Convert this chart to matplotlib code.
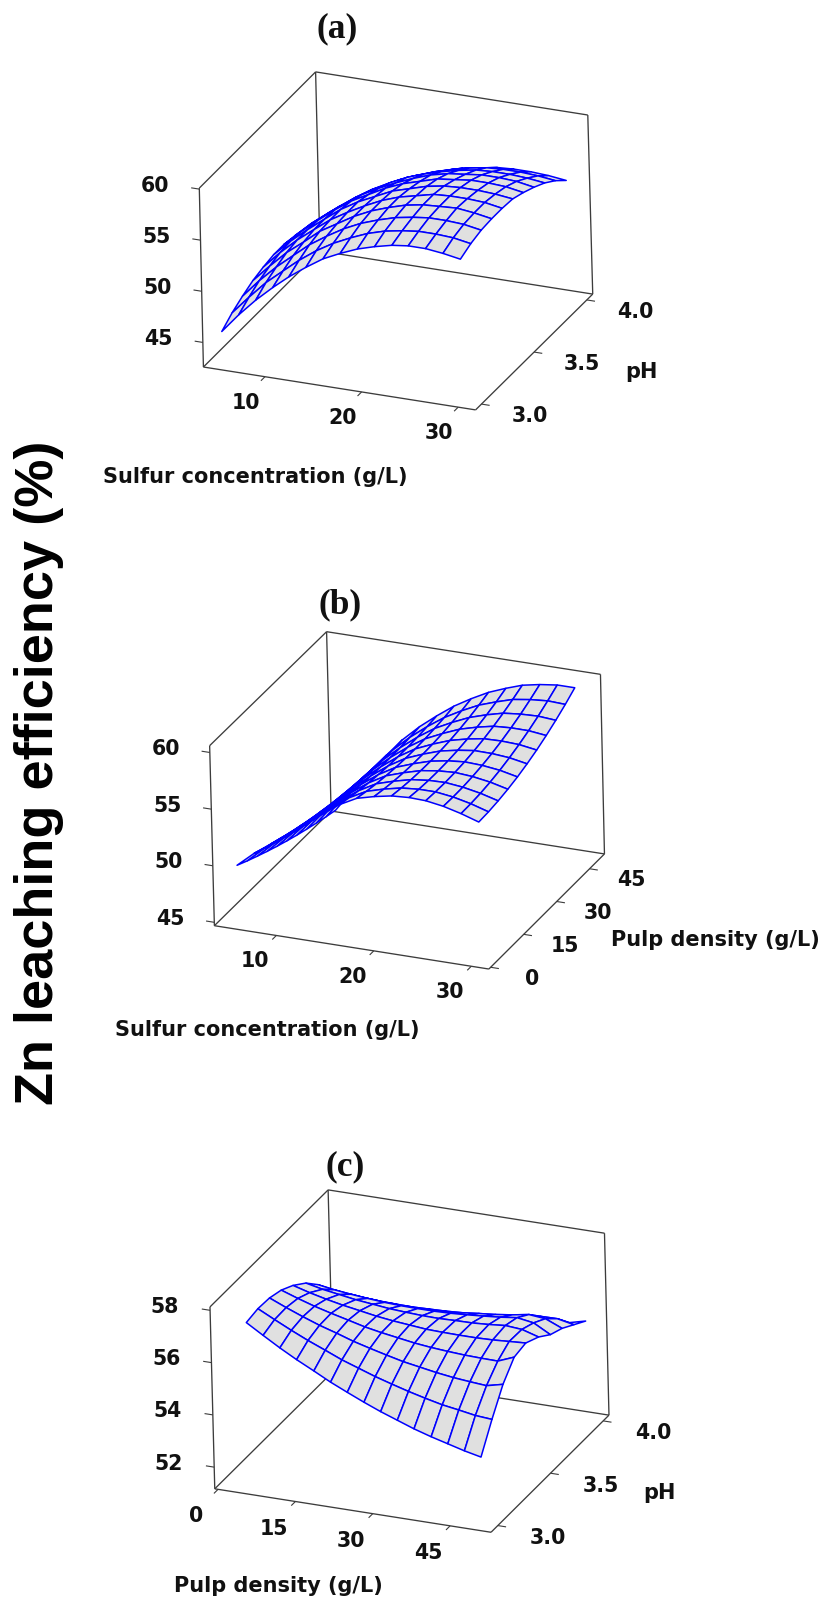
import numpy as np
import matplotlib
matplotlib.use("Agg")
import matplotlib.pyplot as plt
from mpl_toolkits.mplot3d import proj3d

W, H = 819, 1600

# ---------- data ----------
sulfur_a = [5, 6.8, 8.6, 10.4, 12.1, 13.9, 15.7, 17.5, 19.3, 21.1, 22.9, 24.6, 26.4, 28.2, 30]
ph_a = [3.0, 3.1, 3.2, 3.3, 3.4, 3.5, 3.6, 3.7, 3.8, 3.9, 4.0]
zn_a = [
    [45.7, 47.6, 49.3, 50.8, 52.1, 53.3, 54.4, 55.2, 55.9, 56.4, 56.8, 57.0, 57.0, 56.8, 56.5],
    [46.5, 48.3, 50.0, 51.4, 52.7, 53.9, 54.9, 55.7, 56.4, 56.9, 57.2, 57.4, 57.4, 57.3, 57.0],
    [47.1, 48.9, 50.5, 51.9, 53.2, 54.3, 55.3, 56.1, 56.7, 57.2, 57.5, 57.7, 57.7, 57.6, 57.3],
    [47.6, 49.3, 50.9, 52.2, 53.5, 54.5, 55.5, 56.3, 56.9, 57.4, 57.7, 57.8, 57.9, 57.7, 57.4],
    [47.9, 49.6, 51.1, 52.4, 53.6, 54.6, 55.5, 56.3, 56.9, 57.3, 57.7, 57.8, 57.8, 57.7, 57.4],
    [48.1, 49.7, 51.1, 52.4, 53.6, 54.6, 55.4, 56.2, 56.7, 57.2, 57.5, 57.6, 57.6, 57.5, 57.3],
    [48.1, 49.6, 51.0, 52.3, 53.4, 54.3, 55.2, 55.9, 56.4, 56.9, 57.1, 57.3, 57.3, 57.2, 56.9],
    [47.9, 49.4, 50.7, 51.9, 53.0, 53.9, 54.7, 55.4, 56.0, 56.4, 56.6, 56.8, 56.8, 56.7, 56.4],
    [47.6, 49.0, 50.3, 51.5, 52.5, 53.4, 54.2, 54.8, 55.3, 55.7, 56.0, 56.1, 56.1, 56.0, 55.8],
    [47.1, 48.5, 49.7, 50.8, 51.8, 52.7, 53.4, 54.0, 54.5, 54.9, 55.2, 55.3, 55.3, 55.2, 55.0],
    [46.5, 47.8, 49.0, 50.0, 51.0, 51.8, 52.5, 53.1, 53.6, 53.9, 54.2, 54.3, 54.3, 54.2, 54.0],
]

sulfur_b = [5, 6.8, 8.6, 10.4, 12.1, 13.9, 15.7, 17.5, 19.3, 21.1, 22.9, 24.6, 26.4, 28.2, 30]
pulp_b = [4, 8.4, 12.8, 17.2, 21.6, 26, 30.4, 34.8, 39.2, 43.6, 48]
zn_b = [
    [49.3, 50.6, 51.7, 52.7, 53.8, 55.0, 56.1, 56.9, 57.3, 57.6, 57.7, 57.65, 57.4, 57.0, 56.5],
    [48.83, 50.19, 51.36, 52.41, 53.55, 54.76, 55.86, 56.67, 57.11, 57.45, 57.58, 57.58, 57.37, 57.02, 56.55],
    [48.39, 49.8, 51.04, 52.16, 53.34, 54.55, 55.65, 56.49, 56.96, 57.34, 57.52, 57.56, 57.39, 57.09, 56.67],
    [47.97, 49.44, 50.76, 51.94, 53.16, 54.39, 55.49, 56.35, 56.86, 57.29, 57.51, 57.6, 57.48, 57.23, 56.85],
    [47.57, 49.11, 50.5, 51.75, 53.02, 54.26, 55.37, 56.25, 56.81, 57.28, 57.55, 57.69, 57.62, 57.43, 57.09],
    [47.2, 48.81, 50.28, 51.59, 52.91, 54.17, 55.29, 56.2, 56.81, 57.33, 57.64, 57.84, 57.82, 57.69, 57.4],
    [46.85, 48.53, 50.08, 51.47, 52.84, 54.12, 55.25, 56.19, 56.85, 57.42, 57.79, 58.04, 58.08, 58.01, 57.77],
    [46.53, 48.28, 49.92, 51.38, 52.8, 54.11, 55.25, 56.23, 56.94, 57.57, 57.99, 58.3, 58.4, 58.39, 58.21],
    [46.23, 48.06, 49.78, 51.32, 52.8, 54.13, 55.29, 56.31, 57.08, 57.76, 58.24, 58.61, 58.77, 58.83, 58.71],
    [45.95, 47.87, 49.68, 51.29, 52.83, 54.2, 55.38, 56.43, 57.27, 58.01, 58.54, 58.98, 59.21, 59.34, 59.27],
    [45.7, 47.7, 49.6, 51.3, 52.9, 54.3, 55.5, 56.6, 57.5, 58.3, 58.9, 59.4, 59.7, 59.9, 59.9],
]

pulp_c = [5, 8.2, 11.4, 14.6, 17.9, 21.1, 24.3, 27.5, 30.7, 33.9, 37.1, 40.4, 43.6, 46.8, 50]
ph_c = [3.0, 3.11, 3.22, 3.33, 3.44, 3.56, 3.67, 3.78, 3.89, 4.0]
# one list per pulp-density column, from pH 3.0 to pH 4.0
zn_c_columns = [
    [57.45, 57.54, 57.51, 57.37, 57.11, 56.72, 56.22, 55.6, 54.85, 54.0],
    [57.06, 57.22, 57.24, 57.15, 56.93, 56.58, 56.12, 55.53, 54.81, 53.97],
    [56.68, 56.91, 56.99, 56.95, 56.78, 56.48, 56.05, 55.49, 54.79, 53.96],
    [56.33, 56.62, 56.76, 56.78, 56.65, 56.38, 55.99, 55.45, 54.78, 53.96],
    [56.0, 56.35, 56.56, 56.62, 56.54, 56.31, 55.94, 55.43, 54.77, 53.97],
    [55.67, 56.08, 56.35, 56.46, 56.43, 56.24, 55.91, 55.42, 54.78, 54.0],
    [55.38, 55.86, 56.18, 56.34, 56.35, 56.2, 55.9, 55.44, 54.82, 54.04],
    [55.1, 55.64, 56.02, 56.24, 56.29, 56.17, 55.9, 55.46, 54.86, 54.1],
    [54.84, 55.45, 55.87, 56.14, 56.23, 56.16, 55.92, 55.5, 54.93, 54.17],
    [54.61, 55.27, 55.76, 56.07, 56.21, 56.18, 55.96, 55.57, 55.0, 54.26],
    [54.38, 55.11, 55.65, 56.02, 56.2, 56.19, 56.01, 55.63, 55.09, 54.36],
    [54.18, 54.96, 55.56, 55.98, 56.2, 56.23, 56.07, 55.72, 55.19, 54.47],
    [54.01, 54.86, 55.5, 55.96, 56.22, 56.29, 56.15, 55.83, 55.32, 54.6],
    [53.84, 54.75, 55.45, 55.95, 56.26, 56.24, 56.05, 55.77, 55.33, 54.74],
    [53.7, 54.7, 55.6, 56.2, 56.3, 56.05, 55.7, 55.5, 55.2, 54.9],
]

xticks_a = [10, 20, 30]
yticks_a = [3.0, 3.5, 4.0]
zticks_a = [45, 50, 55, 60]
xticks_b = [10, 20, 30]
yticks_b = [0, 15, 30, 45]
zticks_b = [45, 50, 55, 60]
xticks_c = [0, 15, 30, 45]
yticks_c = [3.0, 3.5, 4.0]
zticks_c = [52, 54, 56, 58]

# ---------- layout ----------
plt.rcParams["font.family"] = ["DejaVu Sans"]
BOX = "#3c3c3c"
MESH = "#0000ff"
FILL = "#e0e0e0"
TICK_FS = 14.8
LABEL_FS = 15.0

fig = plt.figure(figsize=(W / 100, H / 100), dpi=100, facecolor="white")


def draw_panel(x, y, z, xlim, ylim, zlim, xt, yt, zt, ylabels, corners, box_top,
               xoff, yoff, zoff):
    S = 680
    ax = fig.add_axes([90 / W, 1 - (box_top + S) / H, S / W, S / H],
                      projection="3d", computed_zorder=False, proj_type="ortho")
    ax.set_facecolor("none")
    ax.set_axis_off()
    ax.apply_aspect()
    inv = ax.transData.inverted()
    unit = np.array([(0, 0, 0), (1, 0, 0), (1, 1, 0), (0, 1, 0),
                     (0, 0, 1), (0, 1, 1), (1, 1, 1)], float)
    rows, rhs = [], []
    for (a, b, c), (px, py) in zip(unit, corners):
        u, v = inv.transform((px, H - py))
        rows.append([a, b, c, 1, 0, 0, 0, 0, -u * a, -u * b, -u * c])
        rhs.append(u)
        rows.append([0, 0, 0, 0, a, b, c, 1, -v * a, -v * b, -v * c])
        rhs.append(v)
    p = np.linalg.lstsq(np.array(rows), np.array(rhs), rcond=None)[0]
    Q = np.array([[p[0], p[1], p[2], p[3]],
                  [p[4], p[5], p[6], p[7]],
                  [-0.6, 1.0, -0.5, 2.0],
                  [p[8], p[9], p[10], 1.0]])
    N = np.array([[1 / (xlim[1] - xlim[0]), 0, 0, -xlim[0] / (xlim[1] - xlim[0])],
                  [0, 1 / (ylim[1] - ylim[0]), 0, -ylim[0] / (ylim[1] - ylim[0])],
                  [0, 0, 1 / (zlim[1] - zlim[0]), -zlim[0] / (zlim[1] - zlim[0])],
                  [0, 0, 0, 1]])
    M = Q @ N
    ax.get_proj = lambda: M
    ax.M = M

    x0, x1 = xlim
    y0, y1 = ylim
    z0, z1 = zlim

    def seg(p0, p1, lw=0.95):
        ax.plot([p0[0], p1[0]], [p0[1], p1[1]], [p0[2], p1[2]],
                color=BOX, lw=lw, zorder=1, solid_capstyle="butt")

    A, B, C, D = (x0, y0, z0), (x1, y0, z0), (x1, y1, z0), (x0, y1, z0)
    TA, TD, TC = (x0, y0, z1), (x0, y1, z1), (x1, y1, z1)
    for p0, p1 in [(A, B), (B, C), (C, D), (D, A), (A, TA), (D, TD), (C, TC),
                   (TA, TD), (TD, TC)]:
        seg(p0, p1)

    def label(pt, text, off, ha="center"):
        u, v, _ = proj3d.proj_transform(pt[0], pt[1], pt[2], M)
        ax.annotate(text, xy=(u, v), xytext=(off[0], -off[1]), textcoords="offset pixels",
                    ha=ha, va="center", fontsize=TICK_FS, fontweight="bold",
                    color="#111111", annotation_clip=False)

    for t in xt:
        seg((t, y0, z0), (t, y0 - 0.035 * (y1 - y0), z0), lw=0.8)
        label((t, y0, z0), str(t), xoff)
    for t, s in zip(yt, ylabels):
        seg((x1, t, z0), (x1 + 0.03 * (x1 - x0), t, z0), lw=0.8)
        label((x1, t, z0), s, yoff)
    for t in zt:
        seg((x0, y0, t), (x0 - 0.03 * (x1 - x0), y0, t), lw=0.8)
        label((x0, y0, t), str(t), zoff, ha="right")

    X, Y = np.meshgrid(x, y)
    ax.plot_surface(X, Y, np.array(z), rstride=1, cstride=1, color=FILL, edgecolor=MESH,
                    linewidth=1.1, shade=False, antialiased=True, zorder=2)
    ax.set_xlim(*xlim)
    ax.set_ylim(*ylim)
    ax.set_zlim(*zlim)
    return ax


draw_panel(sulfur_a, ph_a, zn_a, (3.63, 31.8), (2.944, 4.056), (42.6, 60.1),
           xticks_a, yticks_a, zticks_a, ["3.0", "3.5", "4.0"],
           [(203.3, 366.7), (475.7, 410), (592.7, 294), (320, 251.3),
            (199.3, 188.3), (315.7, 71.7), (587.7, 115)], 0,
           (-19, 26), (48, 12), (-30, -3))

draw_panel(sulfur_b, pulp_b, zn_b, (3.63, 31.8), (-0.8, 51.8), (44.7, 60.6),
           xticks_b, yticks_b, zticks_b, ["0", "15", "30", "45"],
           [(214.5, 925.7), (488.9, 969), (604.5, 854), (330.9, 811),
            (209.5, 745.7), (326.8, 631.7), (600.4, 674.3)], 560,
           (-21, 26), (41.5, 11.5), (-30, -3.5))

draw_panel(pulp_c, ph_c, np.array(zn_c_columns).T, (-0.64, 52.93), (2.936, 4.055), (51.17, 58.13),
           xticks_c, yticks_c, zticks_c, ["3.0", "3.5", "4.0"],
           [(214.8, 1489), (490.9, 1532.3), (609, 1415), (332.9, 1371.7),
            (210.1, 1306.7), (327.9, 1190), (604.6, 1233.3)], 920,
           (-22, 27), (50, 12.5), (-31, -3.5))


def ftext(px, py, s, **kw):
    fig.text(px / W, 1 - py / H, s, ha="center", va="center", **kw)


for px, py, s in [(337, 29, "(a)"), (340.5, 605, "(b)"), (345, 1167, "(c)")]:
    ftext(px, py, s, family="Liberation Serif", fontweight="bold", fontsize=25.5, color="#111111")

for px, py, s in [(255, 476.7, "Sulfur concentration (g/L)"), (641.7, 371.7, "pH"),
                  (267, 1030, "Sulfur concentration (g/L)"), (715, 940, "Pulp density (g/L)"),
                  (278.7, 1586, "Pulp density (g/L)"), (659, 1493, "pH")]:
    ftext(px, py, s, fontweight="bold", fontsize=LABEL_FS, color="#111111")

ftext(39, 773, "Zn leaching efficiency (%)", family="Liberation Sans", fontweight="bold",
      fontsize=39, rotation=90, color="black")

fig.savefig("out.png", dpi=100, facecolor="white")
